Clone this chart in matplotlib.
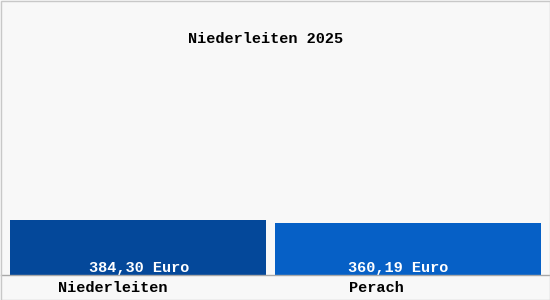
import matplotlib
matplotlib.use("Agg")
import matplotlib.pyplot as plt
from matplotlib.patches import Rectangle

title = "Niederleiten 2025"
categories = ["Niederleiten", "Perach"]
values = [384.30, 360.19]
value_labels = ["384,30 Euro", "360,19 Euro"]

colors = ["#04489a", "#0660c6"]
font = ["Liberation Mono", "DejaVu Sans Mono"]

W, H = 550, 300
fig = plt.figure(figsize=(W / 100, H / 100), dpi=100)
fig.patch.set_facecolor("#f8f8f8")
fig.patches.append(Rectangle((0.5 / W, 0.5 / H), 1 - 1.0 / W, 1 - 1.0 / H,
                             transform=fig.transFigure, fill=False,
                             edgecolor="#c8c8c8", linewidth=1))

ax = fig.add_axes([1 / W, 25 / H, 548 / W, 265 / H])
ax.set_facecolor("#f8f8f8")

x = [0, 1]
widths = [0.947, 0.984]
ax.bar(x, values, width=widths, color=colors, zorder=2)
ax.set_xlim(-136.85 / 270, (548 - 136.85) / 270)
ax.set_ylim(0, 265 * values[0] / 55)

for s in ["top", "right", "left"]:
    ax.spines[s].set_visible(False)
ax.spines["bottom"].set_color("#a8a8a8")
ax.spines["bottom"].set_linewidth(1)
ax.set_xticks([])
ax.set_yticks([])

val_dx = [1, -9.5]
cat_dx = [-25, -31]
for i in range(len(categories)):
    ax.annotate(value_labels[i], xy=(x[i], 0), xytext=(val_dx[i], 3),
                textcoords="offset pixels", ha="center", va="baseline",
                color="white", fontsize=11, fontweight="bold", family=font,
                zorder=3)
    ax.annotate(categories[i], xy=(x[i], 0), xytext=(cat_dx[i], -17),
                textcoords="offset pixels", ha="center", va="baseline",
                color="black", fontsize=11, fontweight="bold", family=font,
                annotation_clip=False)

fig.text(266 / W, 1 - 43 / H, title, ha="center", va="baseline",
         fontsize=11, fontweight="bold", family=font, color="black")

fig.savefig("out.png", dpi=100, facecolor=fig.get_facecolor())
